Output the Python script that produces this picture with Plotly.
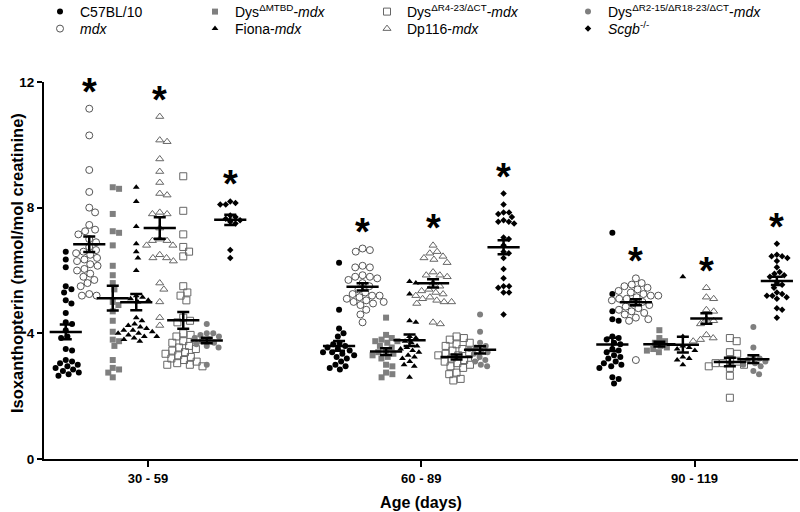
import numpy as np
import plotly.graph_objects as go

# ---------------- data ----------------
age_groups = ["30 - 59", "60 - 89", "90 - 119"]

strain_names = [
    "C57BL/10",
    "<i>mdx</i>",
    "Dys<sup>ΔMTBD</sup>-<i>mdx</i>",
    "Fiona-<i>mdx</i>",
    "Dp116-<i>mdx</i>",
    "Dys<sup>ΔR4-23/ΔCT</sup>-<i>mdx</i>",
    "Dys<sup>ΔR2-15/ΔR18-23/ΔCT</sup>-<i>mdx</i>",
    "<i>Scgb</i><sup>-/-</sup>",
]

c57_values = [
    [6.6, 6.35, 6.1, 5.5, 5.4, 5.3, 5.05, 4.95, 4.65, 4.35, 4.3, 4.1, 3.9, 3.85,
     3.5, 3.45, 3.15, 3.1, 3.05, 3.0, 2.95, 2.9, 2.85, 2.8, 2.75, 2.7, 2.65],
    [6.25, 4.75, 4.15, 4.0, 3.9, 3.7, 3.65, 3.6, 3.55, 3.5, 3.45, 3.4, 3.4, 3.35,
     3.3, 3.25, 3.2, 3.1, 3.0, 2.95, 2.9, 2.85],
    [7.2, 5.25, 4.7, 4.45, 4.4, 3.9, 3.85, 3.8, 3.7, 3.65, 3.5, 3.45, 3.4, 3.3,
     3.25, 3.2, 3.1, 3.05, 3.0, 2.95, 2.9, 2.6, 2.55, 2.4],
]
mdx_values = [
    [11.15, 10.3, 9.2, 8.5, 8.0, 7.85, 7.45, 7.3, 7.25, 7.15, 7.0, 6.9, 6.75, 6.65,
     6.6, 6.55, 6.5, 6.4, 6.35, 6.3, 6.2, 6.15, 6.05, 6.0, 5.9, 5.8, 5.7, 5.6, 5.5,
     5.25, 5.2, 5.2],
    [6.7, 6.65, 6.6, 6.15, 6.1, 6.1, 5.85, 5.8, 5.8, 5.75, 5.7, 5.6, 5.5, 5.4, 5.3,
     5.25, 5.2, 5.2, 5.15, 5.1, 5.05, 5.0, 5.0, 4.95, 4.9, 4.75, 4.6, 4.35],
    [5.75, 5.6, 5.55, 5.5, 5.45, 5.4, 5.35, 5.3, 5.25, 5.2, 5.2, 5.15, 5.1, 5.1,
     5.05, 5.0, 4.95, 4.9, 4.85, 4.8, 4.75, 4.7, 4.65, 4.6, 4.5, 4.45, 4.4, 3.15],
]
mtbd_values = [
    [8.65, 8.6, 7.8, 7.25, 7.2, 6.8, 6.15, 5.85, 5.6, 5.4, 5.0, 4.9, 4.7, 4.4, 4.05,
     3.8, 3.75, 3.6, 3.15, 2.9, 2.85, 2.75, 2.6],
    [4.5, 3.95, 3.85, 3.8, 3.75, 3.75, 3.7, 3.6, 3.55, 3.45, 3.4, 3.35, 3.3, 3.25,
     3.2, 3.0, 2.95, 2.75, 2.7, 2.6],
    [4.1, 3.85, 3.75, 3.7, 3.6, 3.55, 3.5, 3.45, 3.4],
]
fiona_values = [
    [8.65, 8.2, 7.4, 6.85, 6.6, 6.4, 6.0, 5.2, 5.15, 5.1, 5.05, 5.0, 4.5, 4.4, 4.3,
     4.25, 4.2, 4.15, 4.1, 4.1, 4.05, 4.0, 4.0, 3.95, 3.9, 3.9, 3.85, 3.8, 3.75],
    [5.65, 5.6, 5.25, 4.4, 4.35, 3.9, 3.85, 3.75, 3.7, 3.6, 3.55, 3.5, 3.45, 3.4,
     3.3, 3.25, 3.2, 3.1, 3.0, 2.95, 2.6],
    [5.8, 3.9, 3.6, 3.55, 3.5, 3.45, 3.25, 3.2, 3.15, 3.0],
]
dp116_values = [
    [10.9, 10.15, 10.1, 9.55, 9.15, 8.8, 8.45, 8.4, 7.85, 7.8, 7.8, 7.35, 7.0, 6.95,
     6.95, 6.8, 6.8, 6.5, 6.4, 6.4, 6.3, 5.6, 5.4, 5.0, 4.5, 4.25],
    [6.8, 6.6, 6.55, 6.45, 6.4, 6.35, 6.25, 5.95, 5.85, 5.85, 5.8, 5.6, 5.5, 5.4,
     5.35, 5.3, 5.25, 5.2, 5.15, 5.1, 5.05, 5.0, 5.0, 4.95, 4.35, 4.3],
    [5.45, 5.15, 5.1, 4.75, 4.7, 4.45, 4.4, 4.3, 3.95, 3.85, 3.8, 3.75],
]
r4_values = [
    [9.0, 7.9, 7.15, 6.75, 6.6, 6.45, 5.5, 5.3, 5.2, 5.05, 4.5, 4.4, 4.35, 4.0, 3.95,
     3.9, 3.8, 3.75, 3.7, 3.6, 3.55, 3.5, 3.45, 3.4, 3.35, 3.3, 3.25, 3.2, 3.15,
     3.1, 3.05, 3.0, 3.0, 2.95],
    [3.9, 3.85, 3.8, 3.7, 3.65, 3.6, 3.5, 3.45, 3.4, 3.35, 3.3, 3.3, 3.25, 3.2,
     3.15, 3.1, 3.05, 3.0, 2.95, 2.9, 2.75, 2.7, 2.55, 2.5],
    [3.85, 3.75, 3.4, 3.35, 3.15, 3.1, 3.05, 3.05, 3.0, 2.95, 2.9, 2.65, 1.95],
]
r2_values = [
    [4.3, 4.0, 4.0, 3.95, 3.9, 3.85, 3.8, 3.75, 3.7, 3.65, 3.6, 3.55, 3.0],
    [4.6, 4.05, 3.7, 3.6, 3.55, 3.5, 3.45, 3.4, 3.35, 3.25, 3.15, 3.1, 3.0, 2.95],
    [4.2, 3.55, 3.25, 3.2, 3.15, 3.1, 3.05, 3.0, 2.95, 2.8, 2.7],
]
scgb_values = [
    [8.2, 8.15, 8.1, 8.1, 7.75, 7.7, 7.65, 7.6, 7.55, 7.5, 6.65, 6.4],
    [8.45, 8.1, 7.85, 7.85, 7.8, 7.7, 7.6, 7.55, 7.55, 7.5, 7.05, 7.0, 6.8, 6.6,
     6.55, 6.4, 6.05, 5.75, 5.5, 5.5, 5.45, 5.3, 5.3, 4.6],
    [6.85, 6.5, 6.45, 6.45, 6.4, 6.3, 6.1, 5.95, 5.9, 5.85, 5.8, 5.6, 5.55, 5.45,
     5.3, 5.25, 5.2, 5.2, 5.15, 5.1, 4.8, 4.75, 4.5],
]

all_values = [c57_values, mdx_values, mtbd_values, fiona_values,
              dp116_values, r4_values, r2_values, scgb_values]

# strains marked significant (asterisk) in each age group
significant = [
    [False, True, False, False, True, False, False, True],
    [False, True, False, False, True, False, False, True],
    [False, True, False, False, True, False, False, True],
]

y_title = "Isoxanthopterin (mmol/mol creatinine)"
x_title = "Age (days)"

# ---------------- styling / layout ----------------
W, H = 800, 512
ML, MR, MT, MB = 44, 2, 82, 53
Y_MAX = 12
PX_PER_UNIT_Y = (H - MT - MB) / Y_MAX
PX_PER_GROUP = 23.5
CAT_SPACING = 11.63
X_RANGE = [-(104 / PX_PER_GROUP), (W - MR - ML - 104) / PX_PER_GROUP]

GRAY = "#7f7f7f"
styles = [
    dict(symbol="circle", size=6, color="black", line=dict(width=0)),
    dict(symbol="circle-open", size=7, color="#555555", line=dict(width=1)),
    dict(symbol="square", size=6, color=GRAY, line=dict(width=0)),
    dict(symbol="triangle-up", size=6, color="black", line=dict(width=0)),
    dict(symbol="triangle-up-open", size=7, color="#666666", line=dict(width=1)),
    dict(symbol="square-open", size=7, color="#666666", line=dict(width=1)),
    dict(symbol="circle", size=6, color=GRAY, line=dict(width=0)),
    dict(symbol="diamond", size=5, color="black", line=dict(width=0)),
]
swarm_diam = [6.5, 7.5, 6.5, 6.5, 7.5, 7.5, 6.5, 5.5]

# legend placement per strain: (marker x px, row y px)
legend_pos = [(60, 12), (60, 29), (215, 12), (215, 29),
              (387, 29), (387, 12), (588, 12), (588, 29)]

FONT = "Arial, Liberation Sans, sans-serif"


def swarm(vals, diam):
    """Deterministic beeswarm: horizontal pixel offsets so markers don't overlap."""
    vals = np.asarray(vals, dtype=float)
    ypx = vals * PX_PER_UNIT_Y
    order = np.argsort(-vals, kind="stable")
    placed = []
    offs = np.zeros(len(vals))
    for i in order:
        y = ypx[i]
        cands = [0.0]
        for (px, py) in placed:
            dy = y - py
            if abs(dy) < diam:
                dx = np.sqrt(diam ** 2 - dy ** 2)
                cands += [px + dx, px - dx]
        cands = sorted(cands, key=lambda c: (abs(c), -c))
        for c in cands:
            if all((c - px) ** 2 + (y - py) ** 2 >= diam ** 2 - 1e-6 for px, py in placed):
                offs[i] = c
                placed.append((c, y))
                break
    return offs


def group_x(age_idx, strain_idx):
    return age_idx * CAT_SPACING + (strain_idx - 3.5)


fig = go.Figure()

mean_x, mean_y, sem_y = [], [], []
annotations = []

for s, (name, vals3) in enumerate(zip(strain_names, all_values)):
    xs, ys = [], []
    for a, vals in enumerate(vals3):
        offs = swarm(vals, swarm_diam[s])
        gx = group_x(a, s)
        xs += list(gx + offs / PX_PER_GROUP)
        ys += list(vals)
        arr = np.asarray(vals)
        mean_x.append(gx)
        mean_y.append(arr.mean())
        sem_y.append(arr.std(ddof=1) / np.sqrt(len(arr)))
        if significant[a][s]:
            annotations.append(dict(
                x=gx, y=arr.max(), xref="x", yref="y", text="<b>*</b>",
                showarrow=False, yanchor="bottom", yshift=-6,
                font=dict(family=FONT, size=38, color="black")))
    st = styles[s]
    fig.add_trace(go.Scatter(
        x=xs, y=ys, mode="markers", name=name,
        legend="legend" if s == 0 else f"legend{s + 1}",
        marker=dict(symbol=st["symbol"], size=st["size"], color=st["color"],
                    line=dict(width=st["line"]["width"], color=st["color"])),
        cliponaxis=False,
    ))

fig.add_trace(go.Scatter(
    x=mean_x, y=mean_y, mode="markers", showlegend=False,
    marker=dict(symbol="line-ew", size=23, color="black",
                line=dict(width=2.5, color="black")),
    error_y=dict(type="data", array=sem_y, visible=True, color="black",
                 thickness=2.5, width=6),
))

# y-axis title as rotated annotation
annotations.append(dict(
    x=(17 - ML) / (W - ML - MR), y=0.52, xref="paper", yref="paper",
    text=f"<b>{y_title}</b>", textangle=-90, showarrow=False,
    xanchor="center", yanchor="middle",
    font=dict(family=FONT, size=16.5, color="black")))

layout_legends = {}
for s, (mx, ry) in enumerate(legend_pos):
    key = "legend" if s == 0 else f"legend{s + 1}"
    layout_legends[key] = dict(
        x=(mx - 20) / W, xref="container", xanchor="left",
        y=1 - ry / H, yref="container", yanchor="middle",
        bgcolor="rgba(0,0,0,0)", borderwidth=0,
        font=dict(family=FONT, size=14, color="black"),
        itemsizing="trace",
    )

fig.update_layout(
    width=W, height=H,
    margin=dict(l=ML, r=MR, t=MT, b=MB, autoexpand=False),
    plot_bgcolor="white", paper_bgcolor="white",
    font=dict(family=FONT, color="black"),
    annotations=annotations,
    **layout_legends,
)

fig.update_xaxes(
    range=X_RANGE, showgrid=False, zeroline=False,
    tickvals=[a * CAT_SPACING for a in range(len(age_groups))],
    ticktext=[f"<b>{t}</b>" for t in age_groups],
    tickfont=dict(family=FONT, size=13, color="black"),
    ticks="outside", ticklen=6, tickwidth=2, tickcolor="black",
    showline=True, linewidth=2, linecolor="black",
    title=dict(text=f"<b>{x_title}</b>", font=dict(family=FONT, size=16), standoff=12),
    automargin=True,
)
fig.update_yaxes(
    range=[0, Y_MAX], showgrid=False, zeroline=False,
    tickvals=[0, 4, 8, 12],
    ticktext=["<b>0</b>", "<b>4</b>", "<b>8</b>", "<b>12</b>"],
    tickfont=dict(family=FONT, size=13.5, color="black"),
    ticks="outside", ticklen=5, tickwidth=2, tickcolor="black",
    showline=True, linewidth=2, linecolor="black",
    automargin=True,
)

fig.write_html("out.html", post_script="document.body.style.margin='0';",
               config={"displayModeBar": False})
